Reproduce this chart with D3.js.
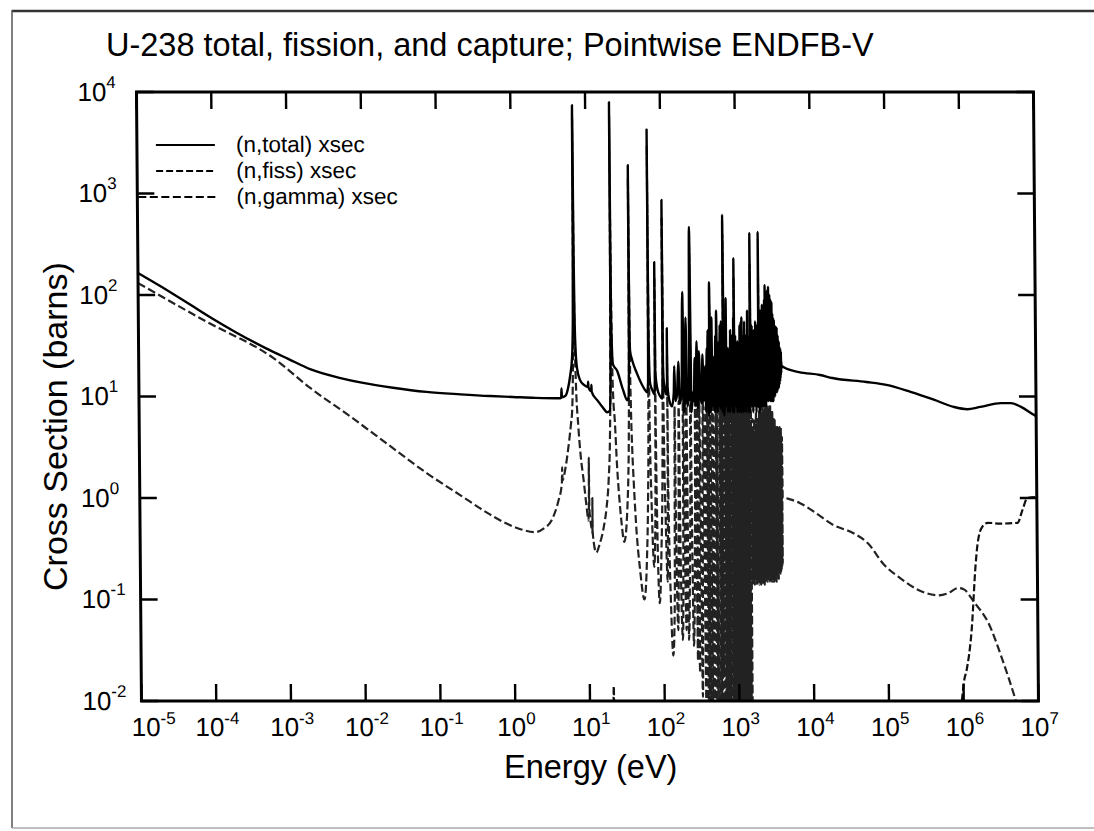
<!DOCTYPE html>
<html><head><meta charset="utf-8">
<script src="https://cdn.jsdelivr.net/npm/d3@7"></script>
<style>
body{margin:0;background:#fff}
svg{display:block}
text{font-family:"Liberation Sans",Arial,Helvetica,sans-serif;fill:#000}
</style>
</head><body><svg id="c" width="1094" height="831"></svg>
<script>
// ---------------- data ----------------
const titleText = "U-238 total, fission, and capture; Pointwise ENDFB-V";
const xTitle = "Energy (eV)";
const yTitle = "Cross Section (barns)";
const xTickExp = [-5,-4,-3,-2,-1,0,1,2,3,4,5,6,7];
const yTickExp = [-2,-1,0,1,2,3,4];
const legendLabels = ["(n,total) xsec","(n,fiss) xsec","(n,gamma) xsec"];

// total cross section [E (eV), sigma (b)]
const totalLow = [[1e-5,165],[2e-5,122],[5e-5,80],[1e-4,58],[2e-4,43],[5e-4,30],[1e-3,23.5],[2e-3,18.5],[5e-3,15.2],[1e-2,13.6],[2.5e-2,12.2],[7e-2,11.1],[0.2,10.5],[0.5,10.1],[1,9.9],[2,9.7],[4.3,9.6],[4.45,9.7],[4.5,12],[4.55,9.8],[5.1,10.2],[5.5,12],[5.9,16],[6.3,25],[6.5,60],[6.6,300],[6.67,7400],[6.74,300],[6.85,60],[7.0,30],[7.3,19],[8,14.5],[9,13],[10.15,12.4],[10.24,14],[10.33,12.3],[11.25,11.3],[11.32,13],[11.4,11.1],[13.5,9.2],[16,7.8],[18.3,7.0],[19.8,7.2],[20.4,12],[20.7,60],[20.8,400],[20.87,7950],[20.95,400],[21.1,60],[21.5,30],[22,21],[25,18],[30,11.6],[34,9.2],[35.6,10],[36.3,30],[36.55,200],[36.68,1900],[36.8,200],[37.1,40],[37.6,28],[40,22.8],[46,17],[54,13],[59,11.6],[63,11],[65,14],[65.7,50],[65.95,500],[66.03,4260],[66.1,500],[66.4,50],[67.5,20],[69,13.6],[74,11.5],[79,10.5],[80.3,18],[80.75,211],[81.2,18],[86,12],[94,10],[100,9.5],[101.8,20],[102.5,862],[103.2,20]];
const totalRes = [[104,16],[108,12],[113,10.5],[116.3,14],[116.9,47],[117.6,13],[125,9],[135,8],[143,11],[145.7,20],[150,9],[158,10.5],[165.3,22],[172,8.5],[182,11],[189.7,107],[196,7],[202,10],[208.5,60],[216,8],[228,10],[237.4,468],[246,7],[258,11],[265,9],[273.7,24],[282,8],[291,35],[300,7.5],[311.4,28],[325,10],[338,8.5],[347.8,26],[360,9],[368,11],[376.9,20],[388,7],[397.6,30],[404,9],[410.2,45],[420,6.5],[428,11],[434,134],[446,7],[455,10],[463,60],[470,8],[478.4,25],[495,10],[508,7],[518.4,40],[527,9],[535.3,70],[550,7],[565,11],[580.2,35],[588,8],[594.9,50],[606,10],[612,7.5],[619.9,55],[624,9],[628.5,25],[645,7],[654,11],[661.2,614],[675,6.5],[686,12],[692.9,40],[700,8],[708.3,50],[715,9],[721.6,93],[726,8],[730.1,28],[748,10],[758,7],[765,30],[772,9],[779.9,25],[800,11],[812,7],[820.8,45],[836,10],[846,8],[850.8,30],[853.5,11],[856,22],[861,9],[866.3,40],[880,7],[889,11],[893.7,35],[899,9],[905.1,60],[915,7],[925,231],[932,9],[937.9,30],[948,8],[958,40],[975,11],[984,8],[991.6,28],[1008,10],[1016,7],[1023,35],[1040,11],[1048,8],[1055,30],[1080,10],[1090,7],[1098,50],[1104,9],[1110,45],[1120,8],[1131,28],[1135,10],[1140,55],[1155,7],[1167,60],[1172,9],[1177,30],[1187,8],[1195,40],[1202,10],[1210,35],[1228,7],[1245,30],[1256,10],[1267,55],[1283,8],[1298,30],[1307,9],[1316,40],[1325,7],[1333,28],[1345,10],[1356,30],[1375,8],[1393,70],[1399,9],[1405,40],[1412,8],[1419,30],[1423,10],[1427,35],[1436,7],[1444,30],[1460,10],[1473,30],[1498,7],[1522,408],[1535,8],[1548,35],[1575,11],[1598,50],[1610,8],[1622,40],[1630,10],[1638,35],[1650,7],[1662,28],[1675,11],[1688,45],[1698,8],[1709,30],[1732,10],[1755,40],[1770,8],[1783,55],[1790,10],[1797,40],[1820,7],[1841,30],[1855,11],[1870,50],[1886,8],[1902,45],[1915,10],[1928,30],[1948,8],[1968,417],[1980,9],[1993,40],[2008,7],[2023,60],[2035,10],[2048,50],[2062,8],[2075,45],[2082,11],[2090,70],[2110,8],[2129,40],[2142,10],[2154,60],[2170,8],[2185,55],[2192,11],[2200,80],[2212,9],[2225,50],[2240,8],[2253,60],[2266,10],[2280,70],[2300,8],[2319,55],[2338,11],[2357,90],[2370,9],[2381,65],[2392,12],[2404,125],[2414,10],[2423,70],[2450,8],[2478,60],[2490,11],[2502,100],[2525,9],[2551,80],[2567,12],[2583,110],[2592,10],[2600,60],[2636,9],[2672,120],[2685,12],[2697,90],[2718,10],[2740,70],[2755,11],[2769,100],[2798,9],[2827,60],[2840,12],[2854,90],[2866,10],[2878,55],[2904,9],[2929,70],[2941,12],[2953,85],[2970,10],[2989,50],[3006,9],[3024,66],[3037,12],[3051,45],[3069,9],[3087,60],[3105,11],[3123,50],[3147,10],[3171,57],[3185,12],[3200,40],[3233,10],[3267,50],[3298,12],[3330,45],[3357,11],[3384,38],[3398,13],[3411,35],[3426,12],[3442,48],[3462,11],[3483,30],[3516,13],[3550,40],[3572,12],[3594,35],[3608,14],[3621,30],[3646,12],[3672,35],[3687,14],[3702,28],[3723,13],[3745,30],[3758,15],[3770,25],[3795,14],[3820,30],[3841,15],[3862,25],[3886,16],[3910,28],[3930,17],[3950,22],[3975,19],[4000,20]];
const totalHigh = [[4200,19.5],[6800,17.4],[1.3e4,16.3],[1.9e4,15.2],[5.4e4,13.9],[1e5,13.0],[2.1e5,11.1],[4.3e5,9.3],[7.9e5,7.9],[1.2e6,7.5],[1.8e6,7.9],[3.4e6,8.6],[4.6e6,8.6],[6.3e6,7.9],[9.3e6,6.6],[1e7,6.4]];

// capture (n,gamma)
const captureLow = [[1e-5,131],[8e-5,55],[6.3e-4,24],[2e-3,12],[6.8e-3,6.3],[2.2e-2,3.3],[7e-2,1.75],[0.2,1.05],[0.45,0.71],[0.8,0.56],[1.26,0.49],[1.9,0.46],[2.5,0.5],[3.2,0.6],[4,0.95],[4.4,1.3],[4.45,1.4],[4.5,2.0],[4.55,1.5],[5,2.0],[5.5,3.2],[6.0,5.5],[6.2,7],[6.4,15],[6.55,60],[6.63,500],[6.67,5500],[6.71,500],[6.8,60],[7.0,15],[7.5,5],[8,2.6],[8.7,1.5],[9.5,0.8],[10,0.6],[10.18,0.9],[10.24,2.5],[10.3,0.8],[11,0.5],[11.28,0.45],[11.32,1.0],[11.36,0.45],[12.6,0.29],[14,0.35],[16,0.52],[17.5,0.8],[18.8,1.5],[19.8,4],[20.3,15],[20.6,80],[20.8,600],[20.87,5800],[20.94,600],[21.2,80],[21.6,20],[22.2,9],[23,6],[24.5,2],[26,1.0],[27.5,0.6],[30,0.37],[32,0.5],[33.5,0.9],[34.5,1.6],[35.5,5],[36.2,30],[36.55,300],[36.68,1400],[36.8,300],[37.2,30],[38,8],[39.5,2.5],[40.6,1.5],[44,0.45],[48,0.21],[55,0.10],[60,0.25],[63,1.0],[64.8,5],[65.6,60],[65.95,600],[66.03,3000],[66.1,600],[66.5,60],[67.5,5],[70,1.0],[75,0.21],[78.5,0.6],[80.2,5],[80.75,150],[81.3,5],[84,0.3],[88,0.092],[94,0.3],[99,2],[101.8,20],[102.5,600],[103.2,20]];
const captureRes = [[104,5],[108,0.6],[113,0.15],[116.3,2],[116.9,25],[117.6,1.5],[125,0.08],[132,0.028],[140,0.1],[143,1],[145.7,8],[148,0.6],[155,0.05],[160,0.3],[165.3,9],[170,0.2],[178,0.04],[186,1],[189.7,60],[193,0.8],[200,0.05],[204,0.4],[208.5,30],[213,0.4],[215,0.04],[225,0.2],[234,3],[237.4,300],[241,2],[250,0.035],[262,0.2],[270,2],[273.7,10],[277,0.5],[282,0.025],[288,1],[291,15],[294,0.4],[300,0.019],[311.4,12],[325,0.011],[347.8,10],[362,0.007],[376.9,8],[388,0.006],[397.6,12],[404,0.01],[410.2,20],[420,0.005],[434,80],[446,0.006],[463,30],[470,0.007],[478.4,9],[495,0.008],[508,0.004],[518.4,18],[527,0.006],[535.3,35],[550,0.005],[565,0.009],[580.2,14],[588,0.006],[594.9,22],[606,0.008],[612,0.005],[619.9,25],[624,0.02],[628.5,9],[645,0.004],[654,0.008],[661.2,400],[675,0.005],[686,0.009],[692.9,18],[700,0.006],[708.3,22],[715,0.007],[721.6,50],[726,0.01],[730.1,10],[748,0.008],[758,0.005],[765,12],[772,0.007],[779.9,9],[800,0.009],[812,0.005],[820.8,20],[836,0.008],[846,0.006],[850.8,12],[853.5,0.3],[856,8],[861,0.01],[866.3,18],[880,0.005],[889,0.009],[893.7,14],[899,0.01],[905.1,30],[915,0.006],[925,150],[932,0.01],[937.9,10],[948,0.006],[958,18],[975,0.009],[984,0.005],[991.6,10],[1008,0.009],[1016,0.005],[1023,14],[1040,0.008],[1048,0.006],[1055,11],[1080,0.009],[1090,0.005],[1098,22],[1104,0.01],[1110,18],[1120,0.006],[1131,9],[1135,0.01],[1140,24],[1155,0.005],[1167,26],[1172,0.01],[1177,10],[1187,0.006],[1195,16],[1202,0.01],[1210,13],[1228,0.005],[1245,10],[1256,0.009],[1267,24],[1283,0.006],[1298,10],[1307,0.009],[1316,16],[1325,0.005],[1333,9],[1345,0.008],[1356,10],[1375,0.006],[1393,32],[1399,0.01],[1405,16],[1412,0.007],[1419,10],[1423,0.01],[1427,13],[1436,0.005],[1444,10],[1460,0.009],[1473,10],[1498,0.006],[1522,200],[1535,0.15],[1548,5],[1575,0.14],[1598,6],[1610,0.15],[1622,5],[1630,0.16],[1638,4],[1650,0.14],[1662,3],[1675,0.17],[1688,6],[1698,0.15],[1709,4],[1732,0.16],[1755,5],[1770,0.14],[1783,7],[1790,0.18],[1797,5],[1820,0.15],[1841,4],[1855,0.17],[1870,6],[1886,0.14],[1902,6],[1915,0.16],[1928,4],[1948,0.15],[1968,150],[1980,0.16],[1993,5],[2008,0.14],[2023,7],[2035,0.17],[2048,6],[2062,0.15],[2075,5],[2082,0.18],[2090,8],[2110,0.14],[2129,5],[2142,0.16],[2154,7],[2170,0.15],[2185,6],[2192,0.18],[2200,8],[2212,0.16],[2225,6],[2240,0.14],[2253,7],[2266,0.17],[2280,7],[2300,0.15],[2319,6],[2338,0.18],[2357,8],[2370,0.16],[2381,7],[2392,0.19],[2404,8],[2414,0.17],[2423,7],[2450,0.15],[2478,6],[2490,0.18],[2502,8],[2525,0.16],[2551,7],[2567,0.19],[2583,8],[2592,0.17],[2600,6],[2636,0.15],[2672,8],[2685,0.19],[2697,7],[2718,0.16],[2740,6],[2755,0.18],[2769,8],[2798,0.15],[2827,6],[2840,0.19],[2854,7],[2866,0.17],[2878,6],[2904,0.15],[2929,7],[2941,0.19],[2953,7],[2970,0.16],[2989,5],[3006,0.15],[3024,6],[3037,0.18],[3051,5],[3069,0.15],[3087,6],[3105,0.17],[3123,5],[3147,0.16],[3171,6],[3185,0.19],[3200,4],[3233,0.15],[3267,5],[3298,0.18],[3330,5],[3357,0.17],[3384,4],[3398,0.19],[3411,4],[3426,0.18],[3442,5],[3462,0.16],[3483,4],[3516,0.19],[3550,5],[3572,0.18],[3594,4],[3608,0.2],[3621,4],[3646,0.18],[3672,5],[3687,0.21],[3702,4],[3723,0.19],[3745,5],[3758,0.22],[3770,4],[3795,0.2],[3820,5],[3841,0.21],[3862,4],[3886,0.22],[3910,4],[3930,0.23],[3950,4],[3990,1.0]];
const captureHigh = [[4200,1.0],[5000,0.97],[6800,0.89],[1.02e4,0.74],[1.9e4,0.54],[3.5e4,0.45],[5.4e4,0.36],[8.9e4,0.22],[1.5e5,0.16],[2.5e5,0.125],[4.7e5,0.11],[6.3e5,0.115],[8.7e5,0.13],[1.05e6,0.125],[1.4e6,0.095],[2.2e6,0.058],[3.3e6,0.026],[4.9e6,0.0105],[1e7,0.0015]];

// fission
const fission = [[15,0.0005],[20.3,0.002],[20.87,0.014],[21.4,0.002],[30,0.0005],[7e5,0.003],[9.5e5,0.0105],[1.02e6,0.016],[1.1e6,0.02],[1.3e6,0.05],[1.5e6,0.23],[1.6e6,0.36],[1.85e6,0.52],[2.2e6,0.57],[3.2e6,0.56],[5.5e6,0.57],[6.4e6,0.76],[7.5e6,1.0],[1e7,1.02]];

// ---------------- drawing ----------------
const svg = d3.select("#c");
const W = 1094, H = 831;
const L = 139, R = 1036, T = 92, B = 701;
const x = d3.scaleLog().domain([1e-5,1e7]).range([L,R]);
const y = d3.scaleLog().domain([1e-2,1e4]).range([B,T]);

// page frame (scan border)
svg.append("line").attr("x1",12).attr("x2",W).attr("y1",11).attr("y2",11).attr("stroke","#333").attr("stroke-width",2.5);
svg.append("line").attr("x1",12).attr("x2",12).attr("y1",10).attr("y2",828).attr("stroke","#555").attr("stroke-width",1.5);
svg.append("line").attr("x1",12).attr("x2",W).attr("y1",828).attr("y2",828).attr("stroke","#aaa").attr("stroke-width",1.5);

// title
svg.append("text").attr("x",106).attr("y",56).attr("font-size",32.5).text(titleText);
// axis titles
svg.append("text").attr("x",504).attr("y",778).attr("font-size",32.5).text(xTitle);
svg.append("text").attr("transform","translate(67,591) rotate(-90)").attr("font-size",34).text(yTitle);

// scan skew
const k = 5/609;
const g = svg.append("g").attr("transform",`translate(${-k*400},0) skewX(${Math.atan(k)*180/Math.PI})`);

g.append("clipPath").attr("id","pc").append("rect").attr("x",L).attr("y",T).attr("width",R-L).attr("height",B-T);

const line = d3.line().x(d=>x(d[0])).y(d=>y(d[1])).curve(d3.curveMonotoneX);
const dg = g.append("g").attr("clip-path","url(#pc)").attr("fill","none").attr("stroke-linejoin","round");

const capture = captureLow.concat(captureRes, captureHigh);
const total = totalLow.concat(totalRes, totalHigh);

dg.append("path").datum(capture).attr("d",line).attr("stroke","#222").attr("stroke-width",2.2).attr("stroke-dasharray","8,3.5");
dg.append("path").datum(fission).attr("d",line).attr("stroke","#111").attr("stroke-width",2.2).attr("stroke-dasharray","7,3");
dg.append("path").datum(total).attr("d",line).attr("stroke","#000").attr("stroke-width",2.4);

// frame
g.append("rect").attr("x",L).attr("y",T).attr("width",R-L).attr("height",B-T).attr("fill","none").attr("stroke","#000").attr("stroke-width",3);

// ticks
const tl = 17;
const tg = g.append("g").attr("stroke","#000").attr("stroke-width",2.4);
xTickExp.forEach(e=>{
  const xv = x(Math.pow(10,e));
  tg.append("line").attr("x1",xv).attr("x2",xv).attr("y1",B).attr("y2",B-tl);
  tg.append("line").attr("x1",xv).attr("x2",xv).attr("y1",T).attr("y2",T+tl);
});
yTickExp.forEach(e=>{
  const yv = y(Math.pow(10,e));
  tg.append("line").attr("x1",L).attr("x2",L+tl).attr("y1",yv).attr("y2",yv);
  tg.append("line").attr("x1",R).attr("x2",R-tl).attr("y1",yv).attr("y2",yv);
});

// x tick labels
xTickExp.forEach((e,i)=>{
  const xv = x(Math.pow(10,e)) + (i===0 ? 12 : 1);
  const t = g.append("text").attr("x",xv).attr("y",736).attr("text-anchor","middle").attr("font-size",26);
  t.append("tspan").text("10");
  t.append("tspan").attr("dy",-12).attr("font-size",17).text(String(e));
});
// y tick labels
yTickExp.forEach(e=>{
  const yv = y(Math.pow(10,e));
  const t = g.append("text").attr("x",80).attr("y",yv+9).attr("font-size",26);
  t.append("tspan").text("10");
  t.append("tspan").attr("dy",-13).attr("font-size",17).text(String(e));
});

// legend
const lg = g.append("g");
const legY = [145,171,197];
const legX1 = [158,158,140];
const dashes = [null,"7,3","8,3.5"];
legendLabels.forEach((lab,i)=>{
  const l = lg.append("line").attr("x1",legX1[i]).attr("x2",217).attr("y1",legY[i]).attr("y2",legY[i]).attr("stroke","#000").attr("stroke-width",2);
  if(dashes[i]) l.attr("stroke-dasharray",dashes[i]);
  lg.append("text").attr("x",238).attr("y",legY[i]+7).attr("font-size",22.5).text(lab);
});
</script>
</body></html>
